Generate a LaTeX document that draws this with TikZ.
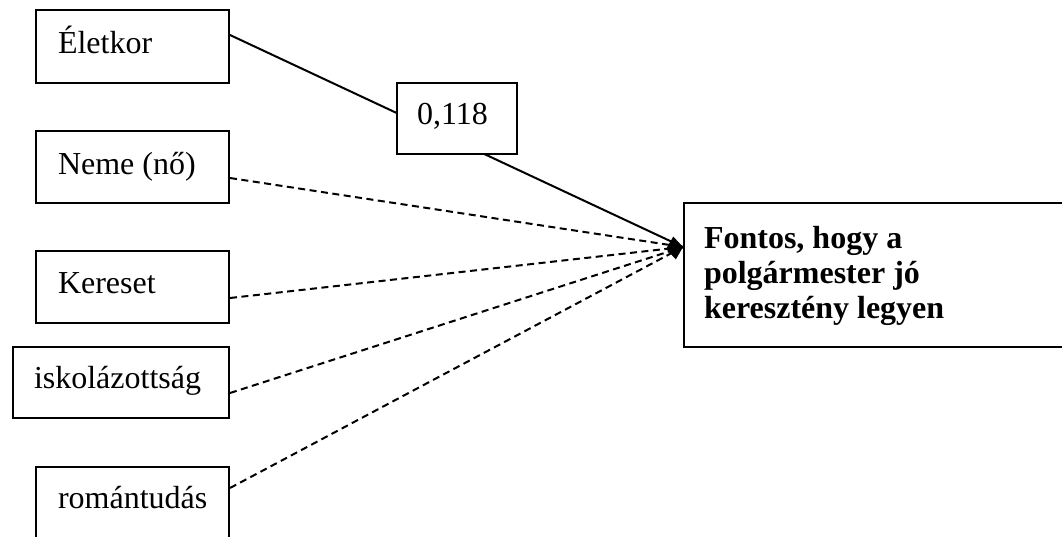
\documentclass[tikz,border=0pt]{standalone}
\usepackage{fontspec}
\setmainfont{Liberation Serif}
\usetikzlibrary{arrows.meta,calc}
\begin{document}
\begin{tikzpicture}[x=1pt,y=-1pt,
  every node/.style={font=\fontsize{32}{35}\selectfont},
  box/.style={draw=black,line width=2pt,anchor=north west,align=flush left,inner ysep=0pt},
  link/.style={line width=2pt},
  dlink/.style={line width=2pt,dash pattern=on 7pt off 4.5pt}]
\path[use as bounding box,clip] (0,0) rectangle (1062,536);
\fill[white] (0,0) rectangle (1062,536);
\node[box,inner xsep=22pt,text width=149pt,text height=43pt,text depth=30pt] (eletkor) at (35,9) {Életkor};
\node[box,inner xsep=22pt,text width=149pt,text height=43pt,text depth=29pt] (neme) at (35,130) {Neme (nő)};
\node[box,inner xsep=22pt,text width=149pt,text height=42pt,text depth=30pt] (kereset) at (35,250) {Kereset};
\node[box,inner xsep=21pt,text width=174pt,text height=41pt,text depth=30pt] (iskola) at (12,346) {iskolázottság};
\node[box,inner xsep=22pt,text width=149pt,text height=41pt,text depth=31pt] (roman) at (35,466) {romántudás};
\node[box,inner xsep=20pt,text width=352pt,text height=45pt,text depth=99pt,font=\fontsize{32}{35}\selectfont\bfseries] (target) at (683,202) {Fontos, hogy a\\polgármester jó\\keresztény legyen};
\coordinate (tip) at ($(target.north west)+(0,45)$);
\draw[link] ($(eletkor.north east)+(0,26)$) -- (tip);
\draw[dlink] ($(neme.north east)+(0,48)$) -- (tip);
\draw[dlink,-{Diamond[length=17pt,width=23pt]}] ($(kereset.north east)+(0,48)$) -- (tip);
\draw[dlink] ($(iskola.north east)+(0,47)$) -- (tip);
\draw[dlink] ($(roman.north east)+(0,22)$) -- (tip);
\node[box,fill=white,inner xsep=20pt,text width=80pt,text height=41pt,text depth=30pt] (coef) at (396,82) {0,118};
\end{tikzpicture}
\end{document}
